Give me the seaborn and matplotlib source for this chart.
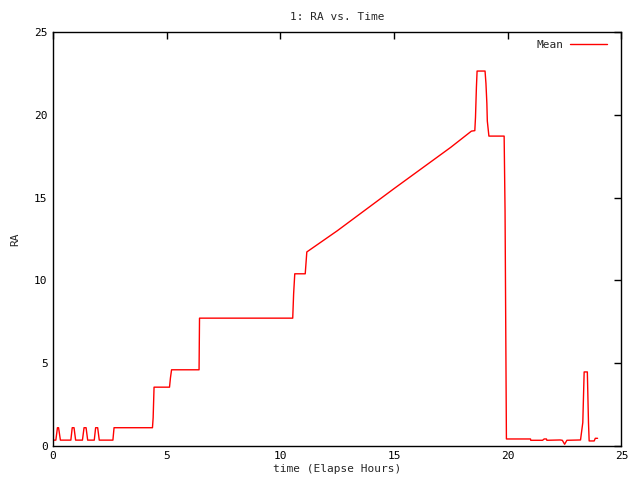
import matplotlib
matplotlib.use("Agg")
import matplotlib.pyplot as plt
import pandas as pd
import seaborn as sns

# data
hours = [0.0, 0.12, 0.19, 0.24, 0.32, 0.78, 0.84, 0.92, 0.99, 1.29, 1.36, 1.45,
         1.52, 1.81, 1.87, 1.96, 2.03, 2.63, 2.68, 4.37, 4.40, 4.44, 5.12, 5.16,
         5.21, 6.42, 6.44, 10.54, 10.58, 10.63, 11.09, 11.16, 12.5, 15.0, 17.49,
         18.40, 18.55, 18.58, 18.62, 18.65, 19.0, 19.04, 19.08, 19.10, 19.17,
         19.84, 19.88, 19.94, 21.0, 21.01, 21.53, 21.6, 21.7, 21.72, 22.3, 22.4,
         22.5, 22.6, 23.2, 23.3, 23.36, 23.5, 23.55, 23.58, 23.8, 23.85, 23.95]
ra_mean = [0.35, 0.35, 1.1, 1.1, 0.35, 0.35, 1.1, 1.1, 0.35, 0.35, 1.1, 1.1,
           0.35, 0.35, 1.1, 1.1, 0.35, 0.35, 1.1, 1.1, 1.7, 3.55, 3.55, 4.1,
           4.6, 4.6, 7.72, 7.72, 9.2, 10.4, 10.4, 11.72, 13.0, 15.55, 18.04,
           19.02, 19.05, 19.85, 21.66, 22.65, 22.65, 21.9, 20.7, 19.63, 18.72,
           18.72, 14.2, 0.42, 0.42, 0.34, 0.34, 0.42, 0.42, 0.34, 0.36, 0.34,
           0.1, 0.34, 0.36, 1.41, 4.47, 4.47, 1.41, 0.3, 0.3, 0.46, 0.46]

df = pd.DataFrame({"time": hours, "RA": ra_mean})

sns.set_style("white")
plt.rcParams["font.family"] = ["DejaVu Sans Mono"]
plt.rcParams["font.size"] = 8

fig = plt.figure(figsize=(6.4, 4.8), dpi=100)
ax = fig.add_axes([0.083, 0.071, 0.888, 0.862])

sns.lineplot(data=df, x="time", y="RA", sort=False, estimator=None,
             color="red", linewidth=1, label="Mean", ax=ax)

ax.set_xlim(0, 25)
ax.set_ylim(0, 25)
ax.set_xticks(range(0, 26, 5))
ax.set_yticks(range(0, 26, 5))
ax.tick_params(direction="in", length=5, width=1, top=True, right=True,
               labelsize=8, colors="black", pad=4)
for s in ax.spines.values():
    s.set_color("black")
    s.set_linewidth(1)

ax.set_title("1: RA vs. Time", fontsize=8, pad=9)
ax.set_xlabel("time (Elapse Hours)", fontsize=8, labelpad=2)
ax.set_ylabel("RA", fontsize=8, labelpad=10)

ax.legend(loc="upper right", bbox_to_anchor=(0.978, 0.987), frameon=False,
          markerfirst=False, handlelength=3.3, handletextpad=0.6, fontsize=8,
          borderaxespad=0, borderpad=0.2)

fig.savefig("out.png", dpi=100)
